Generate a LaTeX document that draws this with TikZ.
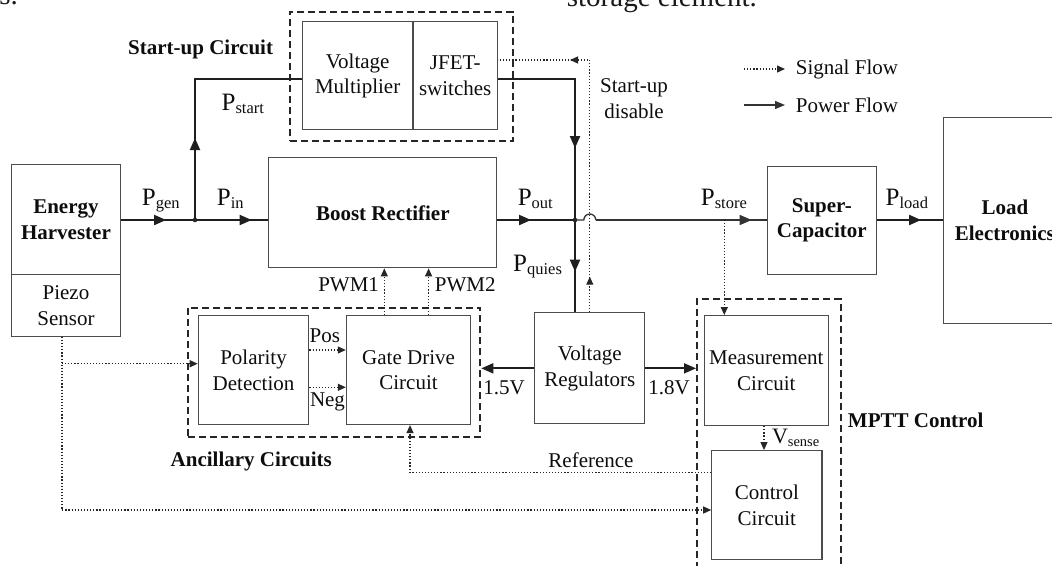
\documentclass[tikz,border=0pt]{standalone}
\usepackage{fontspec}
\setmainfont{Liberation Serif}
\usetikzlibrary{arrows.meta,decorations.markings,calc}
\newcommand\nf{\fontsize{21}{25.5}\selectfont}
\newcommand\Plab[1]{{\fontsize{25}{28}\selectfont P}\raisebox{-3pt}{\fontsize{16.5}{18}\selectfont #1}}
\tikzset{
 ptip/.tip={Triangle[length=12pt,width=10pt]},
 stip/.tip={Triangle[length=8pt,width=7pt]},
 box/.style={draw=black!70, line width=1.1pt, inner sep=0pt, anchor=north west, align=center, font=\nf, text=black!95},
 sz/.style 2 args={minimum width=#1pt, minimum height=#2pt},
 dbox/.style={draw=black!85, line width=2pt, dash pattern=on 7pt off 4pt, inner sep=0pt, anchor=north west},
 pw/.style={draw=black!88, line width=1.8pt},
 pwt/.style={draw=black!80, line width=1.3pt},
 sig/.style={draw=black!85, line width=1.2pt, dash pattern=on 1.2pt off 1.9pt},
 lab/.style={inner sep=0pt, font=\nf, text=black!95},
 plab/.style={inner sep=0pt, anchor=base west, text=black!95},
 pa/.style={postaction={decorate}, decoration={markings, mark=at position #1 with {\arrow{ptip}}}},
 sa2/.style 2 args={postaction={decorate}, decoration={markings, mark=at position #1 with {\arrow{stip}}, mark=at position #2 with {\arrow{stip}}}},
}
\begin{document}
\begin{tikzpicture}[x=1pt,y=-1pt]
\useasboundingbox (0,0) rectangle (1052,565);
\clip (0,0) rectangle (1052,565);

% surrounding page text (cut off)
\node[anchor=base west, inner sep=0pt, font=\fontsize{29}{32}\selectfont, text=black!90] (pg1) at (566.7,6) {storage element.};
\node[anchor=base east, inner sep=0pt, font=\fontsize{29}{32}\selectfont, text=black!90] (pg2) at (18,4) {s.};

% blocks
\node[box,font=\nf\bfseries,sz={109.2}{109.7}] (eh) at (10.8,164.3) {Energy\\Harvester};
\node[box,sz={109.2}{61.7}] (pz) at (10.8,274) {Piezo\\Sensor};
\node[box,sz={110.6}{107.7}] (vm) at (301.8,21.3) {Voltage\\Multiplier};
\node[box,sz={84.5}{107.7}] (jf) at (412.4,21.3) {JFET-\\switches};
\node[box,font=\nf\bfseries,sz={227.9}{110}] (br) at (268.3,157.3) {Boost Rectifier};
\node[box,sz={110.6}{108.7}] (pd) at (197.7,315.3) {Polarity\\Detection};
\node[box,sz={124.4}{108.7}] (gd) at (345.8,315.3) {Gate Drive\\Circuit};
\node[box,sz={110.2}{111}] (vr) at (534.1,312.3) {Voltage\\Regulators};
\node[box,sz={124.6}{110}] (mc) at (703.5,315) {Measurement\\Circuit};
\node[box,sz={110.2}{109.3}] (cc) at (711.2,450) {Control\\Circuit};
\node[box,font=\nf\bfseries,sz={109.5}{108.3}] (sc) at (766.5,165.7) {Super-\\Capacitor};
\node[box,font=\nf\bfseries,sz={122}{205.4}] (le) at (943.3,117.3) {Load\\Electronics};

% dashed groups
\node[dbox,sz={223}{129.3}] (su) at (289,10.7) {};
\node[dbox,sz={292.7}{129}] (anc) at (186.6,306.7) {};
\node[dbox,sz={143.7}{330}] (mptt) at (696,298.3) {};

% labels
\node[lab,font=\nf\bfseries] (lsu) at (200.6,49) {Start-up Circuit};
\node[lab,font=\nf\bfseries] (lanc) at (251.3,461.7) {Ancillary Circuits};
\node[lab,font=\nf\bfseries] (lmp) at (915.7,420) {MPTT Control};
\node[lab,align=center] (lsd) at (634,98.5) {Start-up\\disable};
\node[lab] (lref) at (591,460) {Reference};
\node[lab] (lw1) at (348.6,285) {PWM1};
\node[lab] (lw2) at (465.3,285) {PWM2};
\node[lab] (lpos) at (324.8,336) {Pos};
\node[lab] (lneg) at (327.5,402.3) {Neg};
\node[lab] (l15) at (504,388) {1.5V};
\node[lab] (l18) at (669,388) {1.8V};
\node[plab] (lgen) at (141.7,205) {\Plab{gen}};
\node[plab] (lin) at (216.7,205) {\Plab{in}};
\node[plab] (lstart) at (221.4,110) {\Plab{start}};
\node[plab] (lout) at (517.6,205) {\Plab{out}};
\node[plab] (lquies) at (513,271) {\Plab{quies}};
\node[plab] (lstore) at (700.7,205) {\Plab{store}};
\node[plab] (lload) at (885.5,205) {\Plab{load}};
\node[plab] (lvs) at (771.8,443) {{\fontsize{22}{24}\selectfont V}\raisebox{-3pt}{\fontsize{14.5}{16}\selectfont sense}};

% legend
\coordinate (lg1) at (744,69); \coordinate (lg2) at (785,69);
\coordinate (lg3) at (744,105); \coordinate (lg4) at (785,105);
\draw[sig,-stip] (lg1) -- (lg2);
\draw[pwt,-{Triangle[length=10pt,width=8pt]}] (lg3) -- (lg4);
\node[lab,anchor=west] (lsf) at (795.7,69) {Signal Flow};
\node[lab,anchor=west] (lpf) at (795.7,105) {Power Flow};

% helper coordinates
\coordinate (J1) at (195,220);
\coordinate (S1) at (195,79);
\coordinate (T1) at (575,79);
\coordinate (J2) at (575,220);
\coordinate (bL) at (583.8,220);
\coordinate (bR) at (595.8,220);
\coordinate (M1) at (724.3,220);
\coordinate (D1) at (589.8,60);
\coordinate (P1) at (61.9,510);
\coordinate (P2) at (61.9,363.7);
\coordinate (pos) at (0,350);
\coordinate (neg) at (0,387.3);
\coordinate (w1) at (384.3,0);
\coordinate (w2) at (428.6,0);
\coordinate (rf) at (410,472.3);
\coordinate (vs) at (764,0);

% power flow
\draw[pw,pa=45pt] (eh.east |- J1) -- (J1);
\draw[pw,pa=56.7pt] (J1) -- (J1 -| br.west);
\draw[pw,pa=82pt] (J1) -- (S1) -- (S1 -| vm.west);
\draw[pw,pa=146.1pt] (S1 -| jf.east) -- (T1) -- (J2);
\draw[pw,pa=33.8pt] (br.east |- J2) -- (J2);
\draw[pw,pa=51.7pt] (J2) -- (J2 |- vr.north);
\draw[pwt] (J2) -- (bL) arc[start angle=180,end angle=360,radius=6];
\draw[pwt,pa=155.9pt] (bR) -- (bR -| sc.west);
\draw[pw,pa=44pt] (sc.east |- J2) -- (le.west |- J2);
\draw[pw,-ptip] (vr.west) -- (vr.west -| anc.east);
\draw[pw,-ptip] (vr.east) -- (vr.east -| mptt.west);
\fill[black!85] (J1) circle[radius=2.3];
\fill[black!85] (J2) circle[radius=2.3];

% signal flow
\draw[sig,sa2={35.6pt}{272.1pt}] (vr.north -| D1) -- (D1) -- (D1 -| jf.east);
\draw[sig,-stip] (P1 |- pz.south) -- (P1) -- (P1 -| cc.west);
\draw[sig,-stip] (P2) -- (P2 -| pd.west);
\draw[sig,-stip] (pos -| pd.east) -- (pos -| gd.west);
\draw[sig,-stip] (neg -| pd.east) -- (neg -| gd.west);
\draw[sig,-stip] (w1 |- gd.north) -- (w1 |- br.south);
\draw[sig,-stip] (w2 |- gd.north) -- (w2 |- br.south);
\draw[sig,-stip] (rf -| cc.west) -- (rf) -- (rf |- gd.south);
\draw[sig,-stip] (vs |- mc.south) -- (vs |- cc.north);
\draw[sig,-stip] (M1) -- (M1 |- mc.north);
\end{tikzpicture}
\end{document}
